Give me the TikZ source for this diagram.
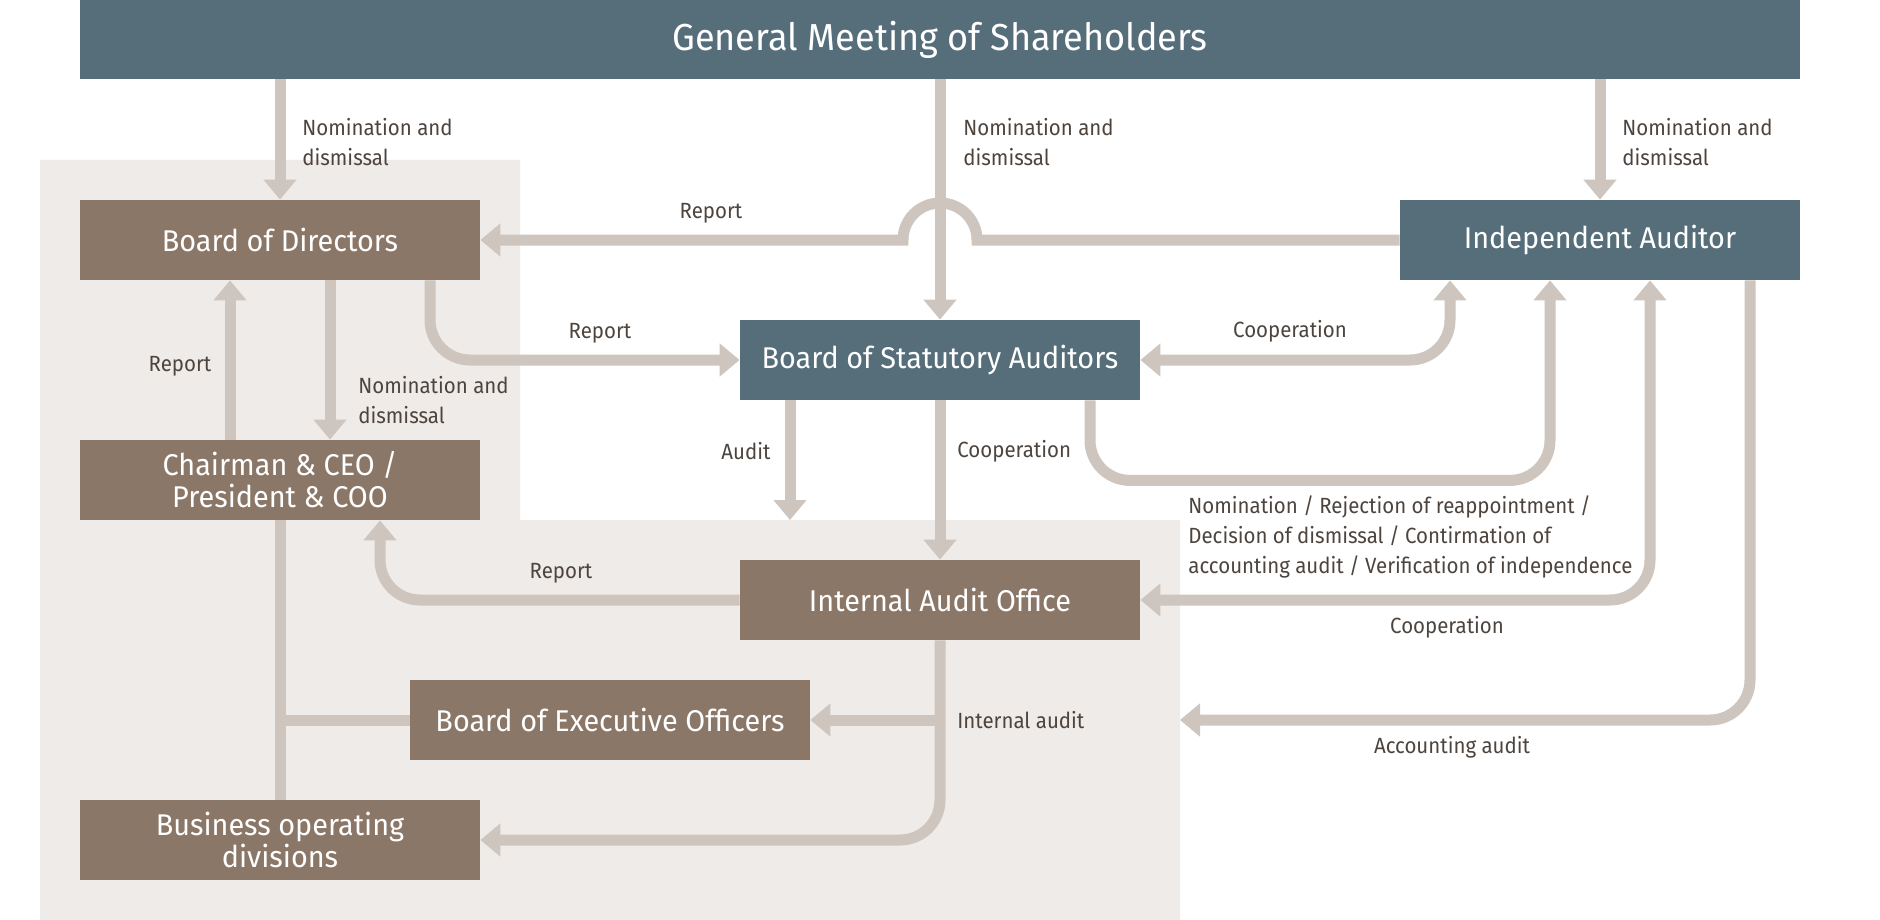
\documentclass[tikz,border=0pt]{standalone}
\usepackage{fontspec}
\setmainfont{Fira Sans}
\newfontfamily\lblfont[FakeStretch=0.93]{Fira Sans}
\newfontfamily\boxfont[FakeStretch=0.96]{Fira Sans}
\usetikzlibrary{arrows.meta}
\pgfdeclarelayer{background}
\pgfsetlayers{background,main}
\definecolor{slate}{RGB}{85,110,122}
\definecolor{taupe}{RGB}{139,119,104}
\definecolor{wire}{RGB}{205,197,190}
\definecolor{panel}{RGB}{239,235,232}
\definecolor{ink}{RGB}{77,68,62}

\begin{document}
\begin{tikzpicture}[x=0.5pt,y=-0.5pt,node distance=120pt,>={Triangle[width=16pt,length=10pt]}]
  % styles
  \tikzstyle{org} = [rectangle,fill=taupe,text=white,minimum width=200pt,minimum height=40pt,inner sep=0pt,align=center,font=\boxfont\fontsize{15}{16}\selectfont];
  \tikzstyle{audit} = [org,fill=slate];
  \tikzstyle{lbl} = [inner sep=0pt,text=ink,align=left,font=\lblfont\fontsize{11}{15}\selectfont];
  \tikzstyle{flow} = [draw=wire,line width=5.5pt,rounded corners=20pt];
  \useasboundingbox (0,0) rectangle (1880,920);

  % nodes
  \node[audit,minimum width=860pt,minimum height=39.5pt,font=\boxfont\fontsize{18.8}{22}\selectfont] (gm) at (940,39.5) {General Meeting of Shareholders};
  \node[org] (bod) at (280,240) {Board of Directors};
  \node[org,below of=bod] (ceo) {Chairman \& CEO /\\President \& COO};
  \node[org,below of=ceo,node distance=180pt] (bus) {Business operating\\divisions};
  \node[audit] (bsa) at (940,360) {Board of Statutory Auditors};
  \node[audit] (ia) at (1600,240) {Independent Auditor};
  \node[org,below of=bsa] (iao) {Internal Audit Office};
  \node[org] (beo) at (610,720) {Board of Executive Officers};
  \coordinate (audtip) at (790,520);
  \coordinate (acctip) at (1180,720);

  % labels
  \node[lbl,anchor=west] (nomA) at (302,142) {Nomination and\\dismissal};
  \node[lbl,anchor=west] (nomB) at (963,142) {Nomination and\\dismissal};
  \node[lbl,anchor=west] (nomC) at (1622,142) {Nomination and\\dismissal};
  \node[lbl] (repA) at (711,213) {Report};
  \node[lbl] (repB) at (600,333) {Report};
  \node[lbl] (repC) at (180,366) {Report};
  \node[lbl,anchor=west] (nomD) at (358,400) {Nomination and\\dismissal};
  \node[lbl] (coopA) at (1290,331) {Cooperation};
  \node[lbl] (aud) at (746,451) {Audit};
  \node[lbl,anchor=west] (coopB) at (957,451) {Cooperation};
  \node[lbl,anchor=west] (nomE) at (1188,537) {Nomination / Rejection of reappointment /\\Decision of dismissal / Contirmation of\\accounting audit / Verification of independence};
  \node[lbl] (repD) at (561,573) {Report};
  \node[lbl] (coopC) at (1447,627) {Cooperation};
  \node[lbl,anchor=west] (intaud) at (957,720) {Internal audit};
  \node[lbl] (accaud) at (1452,747) {Accounting audit};

  \begin{pgfonlayer}{background}
  \fill[panel] (40,160) -| (520,520) -| (1180,920) -- (40,920) -- cycle;
  % edges
  \path[flow,->] (gm.south -| bod) -- (bod.north);
  \path[flow,->] (gm.south) -- (bsa.north);
  \path[flow,->] (gm.south -| ia) -- (ia.north);
  \path[flow,->,sharp corners] (ia.west) -- (977,240) arc[start angle=0,end angle=-180,radius=37] -- (bod.east);

  \path[flow,->] ([xshift=75pt]bod.south) |- (bsa.west);
  \path[flow,->] ([xshift=25pt]bod.south) -- ([xshift=25pt]ceo.north);
  \path[flow,->] ([xshift=-25pt]ceo.north) -- ([xshift=-25pt]bod.south);

  \path[flow,<->] (bsa.east) -| ([xshift=-75pt]ia.south);
  \path[flow,->] ([xshift=75pt]bsa.south) -- ++(0,80) -| ([xshift=-25pt]ia.south);
  \path[flow,<->] ([xshift=25pt]ia.south) |- (iao.east);
  \path[flow,->] ([xshift=75pt]ia.south) |- (acctip);
  \path[flow,->] ([xshift=-75pt]bsa.south) -- (audtip);
  \path[flow,->] (bsa.south) -- (iao.north);

  \path[flow,->] (iao.west) -| ([xshift=50pt]ceo.south);
  \path[flow,->] (iao.south) |- (bus.east);
  \path[flow,->] (iao.south |- beo.east) -- (beo.east);
  \path[flow] (ceo.south) -- (bus.north);
  \path[flow] (ceo.south |- beo.west) -- (beo.west);
  \end{pgfonlayer}
\end{tikzpicture}
\end{document}
